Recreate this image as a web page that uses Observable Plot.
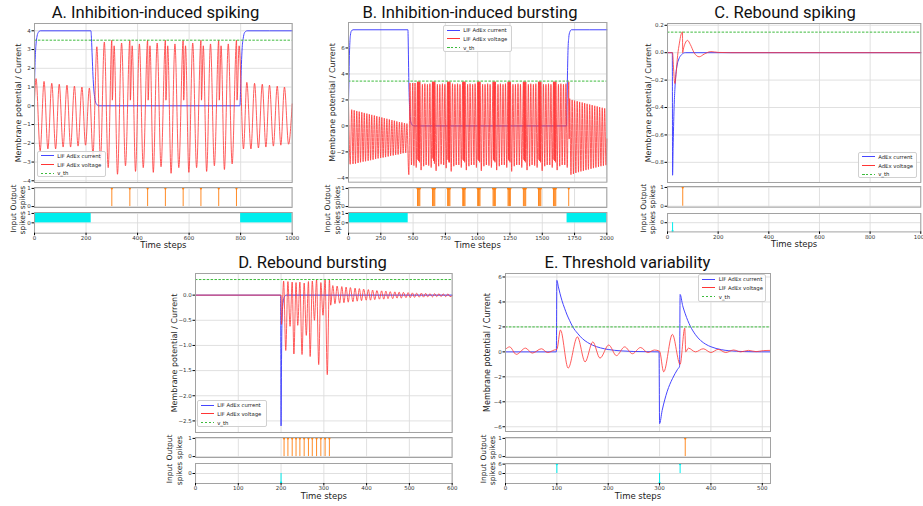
<!DOCTYPE html>
<html><head><meta charset="utf-8">
<script src="https://cdn.jsdelivr.net/npm/d3@7"></script>
<script src="https://cdn.jsdelivr.net/npm/@observablehq/plot@0.6"></script>
<style>
body{margin:0;background:#fff}
#fig{position:relative;width:923px;height:506px;overflow:hidden;background:#fff;font-family:"DejaVu Sans",sans-serif}
.title{position:absolute;width:320px;text-align:center;font-family:Roboto,sans-serif;font-size:16.6px;line-height:20px;height:20px;color:#111;white-space:nowrap}
.leg{position:absolute;box-sizing:border-box;border:0.8px solid #d0d0d0;border-radius:2px;background:rgba(255,255,255,0.85);font-family:"DejaVu Sans";font-size:5.3px;color:#222}
.leg .row{position:absolute;white-space:nowrap;line-height:6px}
.leg .sw{position:absolute;height:1px}
</style></head><body><div id="fig"></div>
<script>
// ---------- titles & labels ----------
const titles = ["A. Inhibition-induced spiking","B. Inhibition-induced bursting","C. Rebound spiking","D. Rebound bursting","E. Threshold variability"];
const legendLIF = ["LIF AdEx current","LIF AdEx voltage","v_th"];
const legendC = ["AdEx current","AdEx voltage","v_th"];
const yLabel = "Membrane potential / Current";
const outLabel = "Output\nspikes";
const inLabel = "Input\nspikes";
const xLabel = "Time steps";

// ---------- Panel A ----------
const A_vth = 3.5;
const A_current = [[0,1.2],[3,2.6],[6,3.3],[10,3.72],[15,3.92],[22,4],[219,4],[221,3.6],[224,2.6],[227,1.6],[230,0.9],[234,0.4],[240,0.1],[250,0],[797,0],[800,0.9],[803,2.2],[806,3.1],[810,3.6],[815,3.9],[825,4],[1000,4]];
const A_voltage = [[0,0.3],[6,1.45],[22,-2.4],[37,1.3],[52,-2.3],[67,1.2],[82,-2.3],[96,1.15],[111,-2.2],[126,1.1],[140,-2.2],[155,1.05],[169,-2.15],[184,1.0],[198,-2.1],[213,0.95],
[227,-2.6],[242,3.15],[256,-2.9],[271,3.4],[286,-3.3],[300,3.5],[302,0.3],[309,3.2],[322,-3.65],[338,3.35],[353,-3.2],
[370,3.5],[372,0.3],[379,3.2],[392,-3.5],[407,3.3],[422,-3.3],[439,3.5],[441,0.3],[448,3.2],[461,-3.55],[476,3.35],[491,-3.25],
[508,3.5],[510,0.3],[517,3.2],[530,-3.6],[545,3.3],[560,-3.3],[577,3.5],[579,0.3],[586,3.2],[599,-3.55],[614,3.35],[629,-3.3],
[646,3.5],[648,0.3],[655,3.2],[668,-3.5],[683,3.3],[698,-3.2],[715,3.5],[717,0.3],[724,3.2],[737,-3.4],[752,3.3],[767,-3.1],
[784,3.5],[786,0.3],[794,3.2],[811,-2.3],[824,1.25],[840,-2.3],[854,1.2],[869,-2.25],[884,1.15],[898,-2.2],[912,1.1],[927,-2.15],[942,1.05],[956,-2.1],[970,1.0],[986,-2.05],[1000,0.1]];
const A_out = [300,370,439,508,577,646,715,784];
const A_in = [[0,220],[800,1000]];

// ---------- Panel B ----------
const B_vth = 3.45;
const B_current = [[0,1.9],[3,3.2],[6,5.0],[10,6.3],[15,7.0],[22,7.3],[35,7.4],[460,7.4],[463,6.0],[466,4.0],[470,2.2],[475,1.0],[482,0.3],[495,0.05],[510,0],[1688,0],[1691,1.5],[1695,4.0],[1699,5.8],[1705,6.8],[1712,7.2],[1725,7.4],[2000,7.4]];
const B_voltage = [[0,1.9],[13,-2.95],[25,1.25],[35,-2.93],[44,1.2],[54,-2.9],[64,1.15],[74,-2.85],[83,1.1],[93,-2.8],[103,1.05],[113,-2.75],[122,1.0],[132,-2.72],[142,0.95],[152,-2.68],[161,0.9],[171,-2.64],[180,0.85],[190,-2.6],[200,0.8],[210,-2.55],[219,0.75],[229,-2.5],[239,0.7],[249,-2.47],[258,0.65],[268,-2.43],[277,0.6],[287,-2.4],[297,0.55],[307,-2.35],[316,0.5],[326,-2.3],[336,0.45],[346,-2.27],[355,0.4],[365,-2.23],[374,0.35],[384,-2.2],[394,0.3],[404,-2.15],[413,0.27],[423,-2.1],[433,0.22],[443,-2.07],[452,0.18],
[467,-3.75],[476,3.3],[487,-3.0],[497,3.3],[506,-3.05],[515,3.3],[524,-3.2],
[534,3.4],[537,-2.6],[540,3.4],[543,-2.7],[546,3.4],[549,-2.8],[552,3.4],[562,-3.4],[572,3.2],[582,-3.1],[591,3.25],[601,-3.0],[611,3.2],[621,-3.05],[630,3.25],[640,-3.2],
[650,3.4],[653,-2.5],[656,3.4],[659,-2.7],[662,3.4],[665,-2.9],[668,3.4],[678,-3.45],[688,3.2],[698,-3.1],[707,3.2],[717,-2.95],[727,3.25],[737,-3.0],[746,3.2],[756,-3.25],
[767,3.4],[770,-2.6],[773,3.4],[776,-2.8],[779,3.4],[782,-2.8],[785,3.4],[795,-3.5],[805,3.25],[815,-3.1],[824,3.2],[834,-3.0],[844,3.25],[854,-3.0],[863,3.2],[873,-3.2],
[884,3.4],[887,-2.6],[890,3.4],[893,-2.7],[896,3.4],[899,-2.8],[902,3.4],[912,-3.4],[922,3.2],[932,-3.1],[941,3.25],[951,-3.0],[961,3.2],[971,-3.0],[980,3.25],[990,-3.2],
[1000,3.4],[1003,-2.6],[1006,3.4],[1009,-2.7],[1012,3.4],[1015,-2.8],[1018,3.4],[1028,-3.45],[1038,3.2],[1048,-3.1],[1057,3.2],[1067,-3.0],[1077,3.25],[1087,-3.05],[1096,3.2],[1106,-3.2],
[1119,3.4],[1122,-2.6],[1125,3.4],[1128,-2.7],[1131,3.4],[1134,-2.8],[1137,3.4],[1147,-3.4],[1157,3.2],[1167,-3.1],[1176,3.25],[1186,-3.0],[1196,3.2],[1206,-3.0],[1215,3.25],[1225,-3.2],
[1235,3.4],[1238,-2.6],[1241,3.4],[1244,-2.7],[1247,3.4],[1250,-2.8],[1253,3.4],[1263,-3.5],[1273,3.2],[1283,-3.1],[1292,3.2],[1302,-3.0],[1312,3.25],[1322,-3.0],[1331,3.2],[1341,-3.2],
[1354,3.4],[1357,-2.6],[1360,3.4],[1363,-2.7],[1366,3.4],[1369,-2.8],[1372,3.4],[1382,-3.4],[1392,3.2],[1402,-3.1],[1411,3.25],[1421,-3.0],[1431,3.2],[1441,-3.05],[1450,3.25],[1460,-3.2],
[1471,3.4],[1474,-2.6],[1477,3.4],[1480,-2.7],[1483,3.4],[1486,-2.8],[1489,3.4],[1499,-3.45],[1509,3.2],[1519,-3.1],[1528,3.2],[1538,-3.0],[1548,3.25],[1558,-3.0],[1567,3.2],[1577,-3.2],
[1587,3.4],[1590,-2.6],[1593,3.4],[1596,-2.7],[1599,3.4],[1602,-2.8],[1605,3.4],[1615,-3.4],[1625,3.2],[1635,-3.1],[1644,3.25],[1654,-3.0],[1664,3.2],[1674,-3.0],[1683,3.25],[1693,-3.2],
[1705,3.4],[1708,-1.0],[1712,2.1],[1722,-3.75],[1731,2.0],[1741,-3.7],[1750,1.95],[1760,-3.62],[1770,1.9],[1780,-3.56],[1789,1.85],[1799,-3.5],[1809,1.8],[1818,-3.45],[1828,1.75],[1838,-3.4],[1847,1.7],[1857,-3.35],[1867,1.65],[1877,-3.3],[1886,1.6],[1896,-3.25],[1906,1.55],[1915,-3.2],[1925,1.5],[1935,-3.15],[1944,1.45],[1954,-3.1],[1964,1.4],[1973,-3.06],[1983,1.35],[1993,-3.02],[2000,-1.0]];
const B_out = [534,540,546,552,650,656,662,668,767,773,779,785,884,890,896,902,1000,1006,1012,1018,1119,1125,1131,1137,1235,1241,1247,1253,1354,1360,1366,1372,1471,1477,1483,1489,1587,1593,1599,1605,1705];
const B_in = [[0,462],[1692,2000]];

// ---------- Panel C ----------
const C_vth = 0.15;
const C_current = [[0,0],[19,0],[20,-0.894],[22,-0.7],[24,-0.54],[26,-0.4],[29,-0.27],[33,-0.16],[38,-0.09],[45,-0.045],[55,-0.015],[70,0],[1000,0]];
const C_voltage = [[0,0],[20,0],[24,-0.12],[29,-0.225],[34,-0.15],[40,-0.02],[47,0.07],[53,0.13],[59,0.152],[60,0.0],[62,0.02],[70,0.07],[79,0.09],[90,0.06],[105,0.0],[125,-0.03],[145,-0.01],[171,0.008],[200,0.002],[250,0],[1000,0]];
const C_out = [60];
const C_in = [[20,-1]];

// ---------- Panel D ----------
const D_vth = 0.31;
const D_current = [[0,0],[199,0],[200,-2.6],[201,-1.4],[202,-0.6],[204,-0.2],[207,-0.05],[212,0],[600,0]];
const D_voltage = [[0,0],[200,0],[201,-0.58],[206,0.28],[211,-1.1],[216,0.27],[221,-0.62],[226,0.26],[230,-1.17],[235,0.25],[239,-0.6],[244,0.26],[249,-1.18],[254,0.24],[259,-0.8],[264,0.27],[268,-1.22],[273,0.28],[278,-0.5],[283,0.31],[288,-1.38],[293,0.25],[298,-0.4],[303,0.31],[308,-1.58],[313,0.31],
[316,-0.2],[321,0.19],[326,-0.17],[331,0.18],[337,-0.16],[342,0.17],[347,-0.15],[352,0.16],[357,-0.14],[362,0.15],[368,-0.13],[373,0.14],[378,-0.12],[383,0.13],[388,-0.11],[393,0.12],[399,-0.1],[404,0.11],[409,-0.1],[414,0.1],[419,-0.09],[424,0.09],[430,-0.08],[435,0.085],[440,-0.08],[445,0.08],[450,-0.07],[455,0.07],[461,-0.07],[466,0.065],[471,-0.06],[476,0.06],[481,-0.06],[486,0.055],[492,-0.05],[497,0.05],[502,-0.05],[507,0.045],[512,-0.045],[517,0.04],[523,-0.04],[528,0.04],[533,-0.04],[538,0.035],[543,-0.035],[548,0.03],[554,-0.035],[559,0.03],[564,-0.03],[569,0.03],[574,-0.03],[579,0.025],[585,-0.03],[590,0.025],[595,-0.03],[600,-0.01]];
const D_out = [207,216,226,235,244,254,264,273,283,293,303,313];
const D_in = [[200,-1]];

// ---------- Panel E ----------
const E_vth = 2.0;
const E_current = [[0,0],[99,0],[100,5.73],[103,5.2],[106,4.7],[110,4.1],[115,3.5],[120,2.95],[125,2.5],[131,2.0],[140,1.5],[150,1.05],[160,0.75],[170,0.53],[185,0.32],[200,0.19],[225,0.08],[250,0.03],[299,0],[300,-5.75],[305,-4.7],[310,-3.85],[315,-3.15],[320,-2.6],[325,-2.15],[330,-1.75],[335,-1.4],[339,-1.15],[340,4.6],[345,3.7],[350,3.05],[355,2.5],[360,2.05],[370,1.37],[380,0.91],[390,0.61],[400,0.41],[420,0.18],[450,0.05],[480,0.01],[516,0]];
const E_voltage = [[0,0.2],[8,0.4],[21,-0.2],[39,0.3],[52,-0.1],[70,0.25],[82,-0.05],[95,0.15],[100,0.2],[107,1.75],[122,-1.3],[140,1.2],[155,-0.8],[170,0.8],[184,-0.5],[201,0.55],[216,-0.3],[232,0.4],[247,-0.15],[263,0.35],[277,-0.05],[290,0.15],[300,0.05],[308,-1.6],[325,1.4],[340,-1.0],[349,1.9],[351,0.0],[356,0.3],[370,0.0],[385,0.25],[400,-0.05],[414,0.2],[429,-0.05],[444,0.15],[458,0.0],[473,0.12],[488,0.02],[502,0.1],[516,0.12]];
const E_out = [350];
const E_in = [[100,6],[300,-6],[340,6]];

// ---------- tick values ----------
const ticksA_x = [0,200,400,600,800,1000], ticksA_y = [-4,-3,-2,-1,0,1,2,3,4];
const ticksB_x = [0,250,500,750,1000,1250,1500,1750,2000], ticksB_y = [-4,-2,0,2,4,6];
const ticksC_x = [0,200,400,600,800,1000], ticksC_y = [-0.8,-0.6,-0.4,-0.2,0,0.2];
const ticksD_x = [0,100,200,300,400,500,600], ticksD_y = [-2.5,-2,-1.5,-1,-0.5,0];
const ticksE_x = [0,100,200,300,400,500], ticksE_y = [-6,-4,-2,0,2,4,6];

// ---------- drawing ----------
const fig = document.getElementById("fig");
const BLUE = "#4646ff", RED = "#ff3535", GREEN = "#3dbb3d", ORANGE = "#ff7f0e", CYAN = "#00eeee";
const X = d => d[0], Y = d => d[1];

function addPlot(c) {
  const mL = 42, mR = 8, mT = 3, mB = c.bottom ? 26 : 2;
  const W = c.fx[1] - c.fx[0], H = c.fy[1] - c.fy[0];
  const marks = [
    Plot.gridX(c.xTicks, {stroke: "#dcdcdc", strokeOpacity: 1, strokeWidth: 0.9}),
    Plot.gridY(c.yTicks, {stroke: "#dcdcdc", strokeOpacity: 1, strokeWidth: 0.9}),
    ...c.marks,
    Plot.frame({stroke: "#a2a2a2", strokeWidth: 1}),
    Plot.axisY(c.yTicks, {tickSize: 2.5, tickPadding: 1.2, tickFormat: c.yFmt, label: null, fontSize: 5.5, fill: "#333"}),
    Plot.text([c.label], {frameAnchor: "left", dx: -c.ldx, rotate: -90, fontSize: c.lfs, lineHeight: 1.25, lineAnchor: "middle", textAnchor: "middle", fill: "#222"})
  ];
  if (c.bottom) {
    marks.push(Plot.axisX(c.xTicks, {tickSize: 2.5, tickPadding: 0.5, tickFormat: d3.format("d"), label: null, fontSize: 5.5, fill: "#333"}));
    marks.push(Plot.text([xLabel], {frameAnchor: "bottom", dy: 12.5, fontSize: 8.5, lineAnchor: "middle", fill: "#222"}));
  }
  const p = Plot.plot({
    width: W + mL + mR, height: H + mT + mB,
    marginLeft: mL, marginRight: mR, marginTop: mT, marginBottom: mB,
    x: {domain: c.xDomain, axis: c.bottom ? undefined : null},
    y: {domain: c.yDomain},
    style: {background: "transparent", overflow: "visible", fontFamily: "DejaVu Sans", fontSize: "5.5px",
            position: "absolute", left: (c.fx[0] - mL) + "px", top: (c.fy[0] - mT) + "px", maxWidth: "none"},
    marks
  });
  fig.appendChild(p);
}

function mainMarks(cur, volt, vth) {
  return [
    Plot.line(cur, {x: X, y: Y, stroke: BLUE, strokeWidth: 1, curve: "monotone-x"}),
    Plot.line(volt, {x: X, y: Y, stroke: RED, strokeWidth: 0.9, strokeOpacity: 0.9, curve: "monotone-x"}),
    Plot.ruleY([vth], {stroke: GREEN, strokeWidth: 1, strokeDasharray: "2.5,1.4"})
  ];
}
function outMarks(sp) {
  return [
    Plot.ruleX(sp, {x: d => d, y1: 0, y2: 1, stroke: ORANGE, strokeWidth: 0.9}),
    Plot.dot(sp, {x: d => d, y: 1, r: 1.1, fill: ORANGE, stroke: "none"})
  ];
}
function inBandMarks(iv) {
  return [Plot.rect(iv, {x1: X, x2: Y, y1: 0, y2: 1, fill: CYAN})];
}
function inStemMarks(st) {
  return [
    Plot.ruleX(st, {x: X, y1: 0, y2: Y, stroke: CYAN, strokeWidth: 1}),
    Plot.dot(st, {x: X, y: Y, r: 1.1, fill: CYAN, stroke: "none"})
  ];
}

const f1 = d3.format("d"), f2 = d3.format(".1f");
function panel(p) {
  addPlot({fx: p.fx, fy: p.main, xDomain: p.xd, yDomain: p.yd, xTicks: p.xt, yTicks: p.yt, yFmt: p.yf,
           marks: mainMarks(p.cur, p.volt, p.vth), label: yLabel, ldx: p.ldx, lfs: 8});
  addPlot({fx: p.fx, fy: p.out, xDomain: p.xd, yDomain: [-0.05, 1.05], xTicks: p.xt, yTicks: [0, 1], yFmt: f1,
           marks: outMarks(p.spk), label: outLabel, ldx: p.ldx, lfs: 7.5});
  addPlot({fx: p.fx, fy: p.inp, xDomain: p.xd, yDomain: p.ind, xTicks: p.xt, yTicks: p.int, yFmt: f1,
           marks: p.band ? inBandMarks(p.input) : inStemMarks(p.input), label: inLabel, ldx: p.ldx, lfs: 7.5, bottom: true});
}

panel({fx: [34.3, 292], main: [22.7, 181.7], out: [187, 207], inp: [212, 232.7], xd: [0, 1000], yd: [-4.09, 4.39],
       xt: ticksA_x, yt: ticksA_y, yf: f1, cur: A_current, volt: A_voltage, vth: A_vth, spk: A_out,
       input: A_in, band: true, ind: [-1.1, 1.1], int: [0, 1], ldx: 17});
panel({fx: [348.3, 606.7], main: [22.0, 181.7], out: [187, 207], inp: [212, 232.7], xd: [0, 2000], yd: [-4.33, 7.96],
       xt: ticksB_x, yt: ticksB_y, yf: f1, cur: B_current, volt: B_voltage, vth: B_vth, spk: B_out,
       input: B_in, band: true, ind: [-1.1, 1.1], int: [0, 1], ldx: 16.6});
panel({fx: [666.7, 920], main: [22.7, 181.7], out: [186, 206.7], inp: [213.3, 231.7], xd: [0, 1000], yd: [-0.947, 0.213],
       xt: ticksC_x, yt: ticksC_y, yf: f2, cur: C_current, volt: C_voltage, vth: C_vth, spk: C_out,
       input: C_in, band: false, ind: [-1.1, 1.1], int: [0], ldx: 20});
panel({fx: [195, 451.7], main: [272.7, 431.7], out: [436.7, 456.7], inp: [463.3, 483.3], xd: [0, 600], yd: [-2.73, 0.43],
       xt: ticksD_x, yt: ticksD_y, yf: f2, cur: D_current, volt: D_voltage, vth: D_vth, spk: D_out,
       input: D_in, band: false, ind: [-1.1, 1.1], int: [0], ldx: 21.7});
panel({fx: [505, 770], main: [272.7, 430.7], out: [436.7, 456.7], inp: [463.3, 483.3], xd: [0, 516], yd: [-6.38, 6.28],
       xt: ticksE_x, yt: ticksE_y, yf: f1, cur: E_current, volt: E_voltage, vth: E_vth, spk: E_out,
       input: E_in, band: false, ind: [-6.4, 6.4], int: [0, 6], ldx: 18.3});

// legends
function legend(x, y, w, h, labels) {
  const cols = [BLUE, RED, GREEN];
  const d = document.createElement("div"); d.className = "leg";
  Object.assign(d.style, {left: x + "px", top: y + "px", width: w + "px", height: h + "px"});
  labels.forEach((lab, i) => {
    const cy = 4.3 + i * 8.6;
    const sw = document.createElement("div"); sw.className = "sw";
    const bg = i === 2
      ? `repeating-linear-gradient(90deg, ${cols[i]} 0 2.5px, transparent 2.5px 3.9px)`
      : cols[i];
    Object.assign(sw.style, {left: "3px", top: (cy - 0.5) + "px", width: "13px", background: bg});
    const t = document.createElement("div"); t.className = "row"; t.textContent = lab;
    Object.assign(t.style, {left: "19.5px", top: (cy - 3) + "px"});
    d.append(sw, t);
  });
  fig.appendChild(d);
}
legend(36.7, 150.7, 69.3, 26.5, legendLIF);
legend(442.7, 25, 69, 27, legendLIF);
legend(857.7, 151.7, 59, 26, legendC);
legend(196.7, 400, 70, 27, legendLIF);
legend(698.3, 274, 67.7, 28, legendLIF);

// titles
const titleCenters = [[155.5, 18.3], [470, 18.3], [785, 18.3], [312.5, 268.3], [627.5, 268.3]];
titles.forEach((t, i) => {
  const d = document.createElement("div"); d.className = "title"; d.textContent = t;
  d.style.left = (titleCenters[i][0] - 160) + "px";
  d.style.top = (titleCenters[i][1] - 15.5) + "px";
  fig.appendChild(d);
});
</script></body></html>
